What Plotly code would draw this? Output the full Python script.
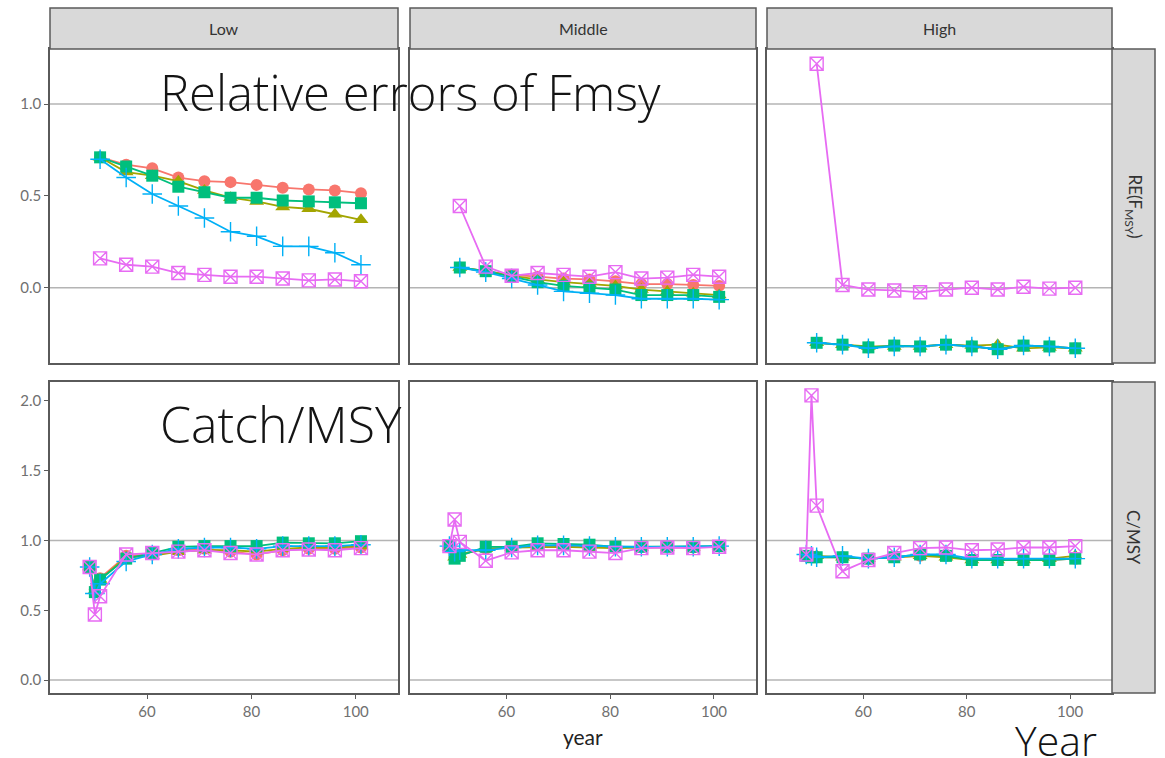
import plotly.graph_objects as go

W, H = 1165, 758

# ---- data -------------------------------------------------------------
years_re = [51, 56, 61, 66, 71, 76, 81, 86, 91, 96, 101]
years_c = [49, 50, 51, 56, 61, 66, 71, 76, 81, 86, 91, 96, 101]

stocks = ["Low", "Middle", "High"]
row_labels = ["RE(F<sub>MSY</sub>)", "C/MSY"]
x_ticks = [60, 80, 100]
y_ticks_re = [0.0, 0.5, 1.0]
y_ticks_c = [0.0, 0.5, 1.0, 1.5, 2.0]

methods = ["M1", "M2", "M3", "M4", "M5"]
method_colors = ["#F8766D", "#A3A500", "#00BF7D", "#00B0F6", "#E76BF3"]
method_symbols = ["circle", "triangle-up", "square", "cross-thin-open", "square-x-open"]
method_sizes = [12, 13, 12, 14, 13]

# relative error of Fmsy
re_low_m1 = [0.71, 0.67, 0.65, 0.60, 0.58, 0.575, 0.56, 0.545, 0.535, 0.53, 0.515]
re_low_m2 = [0.71, 0.63, 0.61, 0.58, 0.53, 0.49, 0.47, 0.44, 0.43, 0.40, 0.37]
re_low_m3 = [0.71, 0.66, 0.61, 0.55, 0.52, 0.49, 0.49, 0.475, 0.47, 0.465, 0.46]
re_low_m4 = [0.70, 0.60, 0.51, 0.445, 0.38, 0.305, 0.28, 0.225, 0.225, 0.19, 0.125]
re_low_m5 = [0.16, 0.125, 0.115, 0.08, 0.07, 0.06, 0.06, 0.05, 0.04, 0.045, 0.035]

re_mid_m1 = [0.11, 0.09, 0.07, 0.06, 0.05, 0.045, 0.035, 0.02, 0.02, 0.015, 0.01]
re_mid_m2 = [0.11, 0.09, 0.065, 0.045, 0.03, 0.02, 0.01, -0.01, -0.02, -0.03, -0.04]
re_mid_m3 = [0.11, 0.09, 0.06, 0.03, 0.01, 0.0, -0.01, -0.04, -0.04, -0.04, -0.05]
re_mid_m4 = [0.11, 0.085, 0.05, 0.015, -0.02, -0.03, -0.04, -0.06, -0.06, -0.06, -0.065]
re_mid_m5 = [0.445, 0.115, 0.065, 0.08, 0.07, 0.06, 0.085, 0.05, 0.055, 0.07, 0.06]

re_high_m1 = [-0.30, -0.31, -0.325, -0.315, -0.32, -0.31, -0.32, -0.335, -0.315, -0.32, -0.33]
re_high_m2 = [-0.30, -0.31, -0.32, -0.32, -0.32, -0.31, -0.315, -0.31, -0.33, -0.325, -0.33]
re_high_m3 = [-0.30, -0.31, -0.325, -0.315, -0.32, -0.31, -0.32, -0.335, -0.315, -0.32, -0.33]
re_high_m4 = [-0.30, -0.31, -0.33, -0.32, -0.32, -0.31, -0.32, -0.335, -0.315, -0.32, -0.33]
re_high_m5 = [1.22, 0.015, -0.01, -0.015, -0.025, -0.01, 0.0, -0.01, 0.005, -0.005, 0.0]

# catch relative to MSY
c_low_m1 = [0.81, 0.65, 0.73, 0.89, 0.90, 0.93, 0.94, 0.92, 0.90, 0.93, 0.94, 0.94, 0.95]
c_low_m2 = [0.81, 0.64, 0.72, 0.88, 0.89, 0.92, 0.93, 0.93, 0.92, 0.94, 0.95, 0.95, 0.96]
c_low_m3 = [0.81, 0.63, 0.72, 0.87, 0.91, 0.955, 0.96, 0.96, 0.96, 0.985, 0.98, 0.98, 0.995]
c_low_m4 = [0.81, 0.62, 0.69, 0.85, 0.90, 0.94, 0.95, 0.95, 0.94, 0.96, 0.96, 0.96, 0.97]
c_low_m5 = [0.81, 0.47, 0.60, 0.90, 0.91, 0.92, 0.93, 0.91, 0.90, 0.93, 0.935, 0.93, 0.945]

c_mid_m1 = [0.95, 0.88, 0.90, 0.94, 0.95, 0.96, 0.96, 0.955, 0.95, 0.955, 0.955, 0.95, 0.96]
c_mid_m2 = [0.95, 0.88, 0.90, 0.94, 0.95, 0.955, 0.955, 0.95, 0.945, 0.95, 0.95, 0.95, 0.955]
c_mid_m3 = [0.96, 0.87, 0.89, 0.955, 0.955, 0.98, 0.975, 0.97, 0.955, 0.955, 0.955, 0.955, 0.96]
c_mid_m4 = [0.96, 0.92, 0.93, 0.93, 0.95, 0.965, 0.965, 0.96, 0.955, 0.955, 0.955, 0.955, 0.96]
c_mid_m5 = [0.96, 1.15, 0.99, 0.855, 0.915, 0.93, 0.93, 0.92, 0.91, 0.945, 0.95, 0.945, 0.955]

c_high_m1 = [0.89, 0.88, 0.88, 0.88, 0.87, 0.88, 0.89, 0.89, 0.86, 0.86, 0.86, 0.86, 0.87]
c_high_m2 = [0.89, 0.89, 0.89, 0.88, 0.87, 0.88, 0.89, 0.88, 0.86, 0.86, 0.86, 0.87, 0.89]
c_high_m3 = [0.89, 0.88, 0.88, 0.88, 0.87, 0.88, 0.90, 0.89, 0.86, 0.86, 0.86, 0.86, 0.87]
c_high_m4 = [0.90, 0.89, 0.88, 0.89, 0.87, 0.88, 0.90, 0.90, 0.87, 0.87, 0.87, 0.87, 0.87]
c_high_m5 = [0.90, 2.04, 1.25, 0.78, 0.86, 0.91, 0.945, 0.95, 0.93, 0.935, 0.95, 0.95, 0.96]

panel_series = [
    [re_low_m1, re_low_m2, re_low_m3, re_low_m4, re_low_m5],
    [re_mid_m1, re_mid_m2, re_mid_m3, re_mid_m4, re_mid_m5],
    [re_high_m1, re_high_m2, re_high_m3, re_high_m4, re_high_m5],
    [c_low_m1, c_low_m2, c_low_m3, c_low_m4, c_low_m5],
    [c_mid_m1, c_mid_m2, c_mid_m3, c_mid_m4, c_mid_m5],
    [c_high_m1, c_high_m2, c_high_m3, c_high_m4, c_high_m5],
]

# ---- layout geometry (pixels) ------------------------------------------
col_px = [(50, 398), (410, 756), (767, 1112)]
row_px = [(49, 363), (382, 693)]
strip_top = 8
strip_right = 1155
x_range = [41.4, 108.1]
y_ranges = [[-0.41, 1.30], [-0.093, 2.136]]

def fx(px):
    return px / W

def fy(py):
    return 1 - py / H

BORDER = "#5a5a5a"
TICK_FONT = dict(family="Lato, Open Sans, sans-serif", size=15, color="#707070")

fig = go.Figure()
layout = dict(
    width=W, height=H,
    margin=dict(l=0, r=0, t=0, b=0),
    paper_bgcolor="white", plot_bgcolor="white",
    showlegend=False,
)

shapes = []
annotations = []

for r in range(2):
    for c in range(3):
        p = r * 3 + c + 1
        xa = "xaxis" if p == 1 else f"xaxis{p}"
        ya = "yaxis" if p == 1 else f"yaxis{p}"
        xref = "x" if p == 1 else f"x{p}"
        yref = "y" if p == 1 else f"y{p}"
        layout[xa] = dict(
            domain=[fx(col_px[c][0]), fx(col_px[c][1])],
            range=x_range, anchor=yref,
            showgrid=False, zeroline=False,
            showline=True, mirror=True, linecolor=BORDER, linewidth=1.5,
            tickvals=x_ticks, showticklabels=(r == 1),
            ticks="outside" if r == 1 else "", ticklen=4, tickcolor=BORDER,
            tickfont=TICK_FONT,
        )
        layout[ya] = dict(
            domain=[fy(row_px[r][1]), fy(row_px[r][0])],
            range=y_ranges[r], anchor=xref,
            showgrid=False, zeroline=False,
            showline=True, mirror=True, linecolor=BORDER, linewidth=1.5,
            tickvals=y_ticks_re if r == 0 else y_ticks_c,
            tickformat=".1f",
            showticklabels=(c == 0),
            ticks="outside" if c == 0 else "", ticklen=4, tickcolor=BORDER,
            tickfont=TICK_FONT,
        )
        # reference lines at 0 and 1
        for yv in (0.0, 1.0):
            shapes.append(dict(
                type="line", xref=f"{xref} domain", yref=yref,
                x0=0, x1=1, y0=yv, y1=yv, layer="below",
                line=dict(color="#b4b4b4", width=1.5),
            ))
        years = years_re if r == 0 else years_c
        for m in range(5):
            fig.add_trace(go.Scatter(
                x=years, y=panel_series[p - 1][m],
                mode="lines+markers", name=methods[m],
                xaxis=xref, yaxis=yref,
                line=dict(color=method_colors[m], width=1.8),
                marker=dict(
                    symbol=method_symbols[m], color=method_colors[m],
                    size=method_sizes[m],
                    line=dict(color=method_colors[m], width=1.4 if m >= 3 else 0),
                ),
            ))

# facet strips on top
for c in range(3):
    shapes.append(dict(
        type="rect", xref="paper", yref="paper",
        x0=fx(col_px[c][0]), x1=fx(col_px[c][1]),
        y0=fy(row_px[0][0]), y1=fy(strip_top),
        fillcolor="#d9d9d9", line=dict(color=BORDER, width=1.5),
    ))
    annotations.append(dict(
        xref="paper", yref="paper",
        x=fx((col_px[c][0] + col_px[c][1]) / 2), y=fy((strip_top + row_px[0][0]) / 2),
        text=stocks[c], showarrow=False, xanchor="center", yanchor="middle",
        font=dict(family="Lato, Open Sans, sans-serif", size=16, color="#333333"),
    ))

# facet strips on the right
for r in range(2):
    shapes.append(dict(
        type="rect", xref="paper", yref="paper",
        x0=fx(col_px[2][1]), x1=fx(strip_right),
        y0=fy(row_px[r][1]), y1=fy(row_px[r][0]),
        fillcolor="#d9d9d9", line=dict(color=BORDER, width=1.5),
    ))
    annotations.append(dict(
        xref="paper", yref="paper",
        x=fx((col_px[2][1] + strip_right) / 2), y=fy((row_px[r][0] + row_px[r][1]) / 2),
        text=row_labels[r], textangle=90, showarrow=False,
        xanchor="center", yanchor="middle",
        font=dict(family="Lato, Open Sans, sans-serif", size=17, color="#333333"),
    ))

# x axis title
annotations.append(dict(
    xref="paper", yref="paper", x=fx(583), y=fy(736),
    text="year", showarrow=False, xanchor="center", yanchor="middle",
    font=dict(family="Lato, Open Sans, sans-serif", size=21, color="#222222"),
))

# large headings
BIG = dict(family="Open Sans, Lato, sans-serif", color="#141414", weight=300)
annotations.append(dict(
    xref="paper", yref="paper", x=fx(158), y=fy(92),
    text="Relative errors of Fmsy", showarrow=False, xanchor="left", yanchor="middle",
    font=dict(size=49, **BIG),
))
annotations.append(dict(
    xref="paper", yref="paper", x=fx(158), y=fy(424),
    text="Catch/MSY", showarrow=False, xanchor="left", yanchor="middle",
    font=dict(size=50, **BIG),
))
annotations.append(dict(
    xref="paper", yref="paper", x=fx(1013), y=fy(740),
    text="Year", showarrow=False, xanchor="left", yanchor="middle",
    font=dict(size=41, **BIG),
))

layout["shapes"] = shapes
layout["annotations"] = annotations
fig.update_layout(**layout)

fig.write_html("out.html")
